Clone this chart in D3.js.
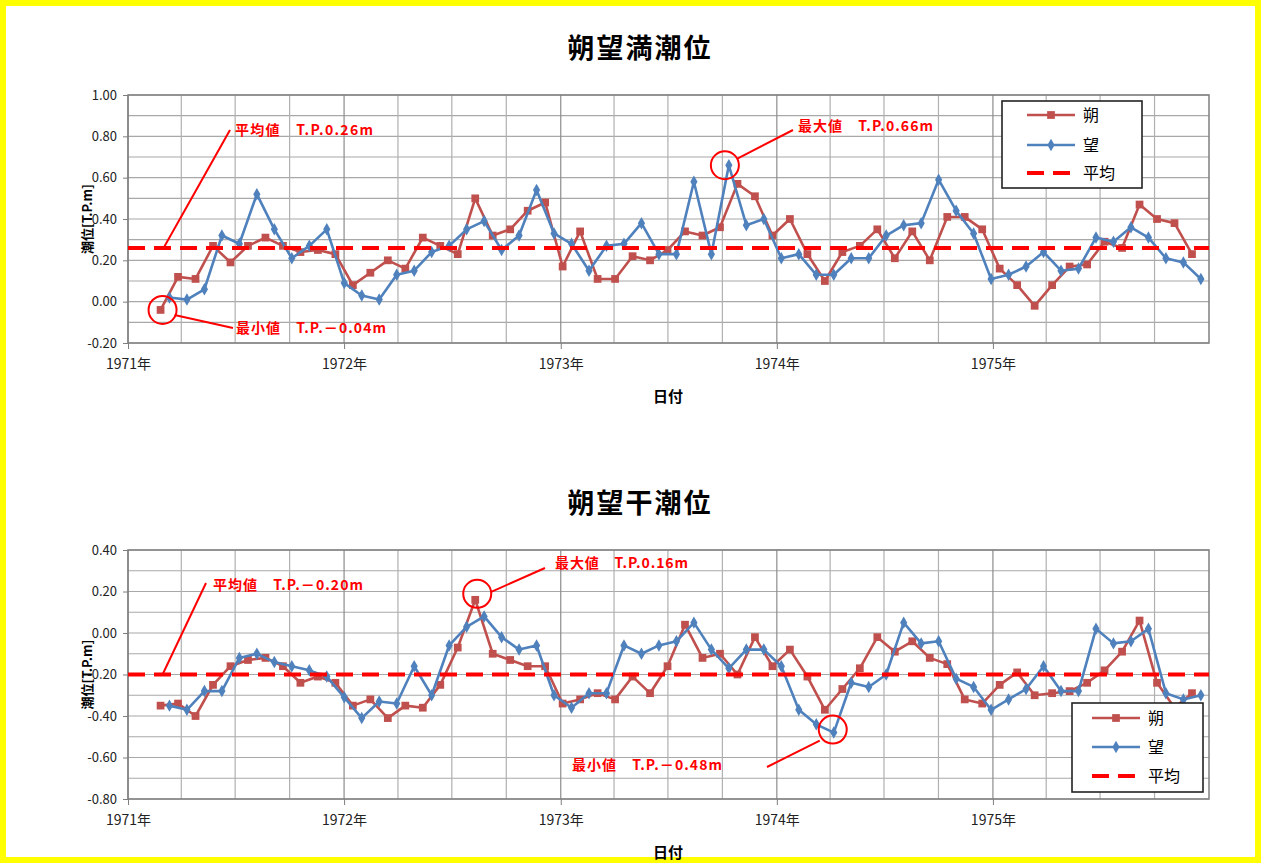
<!DOCTYPE html>
<html>
<head>
<meta charset="utf-8">
<script src="https://cdn.jsdelivr.net/npm/d3@7"></script>
<style>
body { margin: 0; background: #fff; }
text { font-family: "Noto Sans CJK JP", "Noto Sans", sans-serif; }
</style>
</head>
<body>
<div id="chart"></div>
<script>
// spring tide dates: first new moon (朔) and full moon (望), one point per lunar month
var sakuStart = "1971-02-25";
var boStart = "1971-03-12";
var lunarMonth = 29.53;

// year tick labels
var yearTicks = [1971, 1972, 1973, 1974, 1975];

// 朔望満潮位 (T.P.m)
var sakuHigh = [-0.04, 0.12, 0.11, 0.27, 0.19, 0.27, 0.31, 0.27, 0.24, 0.25, 0.23, 0.08, 0.14, 0.20, 0.16, 0.31, 0.27,
  0.23, 0.50, 0.32, 0.35, 0.44, 0.48, 0.17, 0.34, 0.11, 0.11, 0.22, 0.20, 0.25, 0.34, 0.32, 0.36, 0.57, 0.51,
  0.32, 0.40, 0.23, 0.10, 0.24, 0.27, 0.35, 0.21, 0.34, 0.20, 0.41, 0.41, 0.35, 0.16, 0.08, -0.02, 0.08, 0.17,
  0.18, 0.29, 0.26, 0.47, 0.40, 0.38, 0.23];
var boHigh = [0.02, 0.01, 0.06, 0.32, 0.28, 0.52, 0.35, 0.21, 0.27, 0.35, 0.09, 0.03, 0.01, 0.13, 0.15, 0.24, 0.27,
  0.35, 0.39, 0.25, 0.32, 0.54, 0.33, 0.28, 0.15, 0.27, 0.28, 0.38, 0.23, 0.23, 0.58, 0.23, 0.66, 0.37, 0.40,
  0.21, 0.23, 0.13, 0.13, 0.21, 0.21, 0.32, 0.37, 0.38, 0.59, 0.44, 0.33, 0.11, 0.13, 0.17, 0.24, 0.15, 0.16,
  0.31, 0.29, 0.36, 0.31, 0.21, 0.19, 0.11];
var meanHigh = 0.26;

// 朔望干潮位 (T.P.m)
var sakuLow = [-0.35, -0.34, -0.40, -0.25, -0.16, -0.13, -0.12, -0.16, -0.24, -0.21, -0.24, -0.35, -0.32, -0.41, -0.35, -0.36, -0.25,
  -0.07, 0.16, -0.10, -0.13, -0.16, -0.16, -0.34, -0.32, -0.29, -0.32, -0.21, -0.29, -0.16, 0.04, -0.12, -0.10, -0.20, -0.02,
  -0.16, -0.08, -0.21, -0.37, -0.27, -0.17, -0.02, -0.09, -0.04, -0.12, -0.15, -0.32, -0.34, -0.25, -0.19, -0.30, -0.29, -0.28,
  -0.24, -0.18, -0.09, 0.06, -0.24, -0.36, -0.29];
var boLow = [-0.35, -0.37, -0.28, -0.28, -0.12, -0.10, -0.14, -0.16, -0.18, -0.21, -0.31, -0.41, -0.33, -0.34, -0.16, -0.30, -0.06,
  0.03, 0.08, -0.02, -0.08, -0.06, -0.30, -0.36, -0.29, -0.29, -0.06, -0.10, -0.06, -0.04, 0.05, -0.08, -0.17, -0.08, -0.08,
  -0.16, -0.37, -0.44, -0.48, -0.24, -0.26, -0.20, 0.05, -0.05, -0.04, -0.22, -0.26, -0.37, -0.32, -0.27, -0.16, -0.28, -0.28,
  0.02, -0.05, -0.04, 0.02, -0.29, -0.32, -0.30];
var meanLow = -0.20;

var sakuColor = "#C0504D", boColor = "#4F81BD", meanColor = "#FF0000";

var parse = d3.timeParse("%Y-%m-%d");
function lunarDates(start, n) {
  var t0 = parse(start).getTime();
  return d3.range(n).map(function(i) { return new Date(t0 + i * lunarMonth * 864e5); });
}
var sakuDates = lunarDates(sakuStart, sakuHigh.length);
var boDates = lunarDates(boStart, boHigh.length);

var svg = d3.select("#chart").append("svg")
  .attr("width", 1263)
  .attr("height", 865);

// yellow frame
svg.append("rect")
  .attr("x", 3).attr("y", 3)
  .attr("width", 1255).attr("height", 857)
  .attr("fill", "#fff")
  .attr("stroke", "#FFFF00")
  .attr("stroke-width", 6);

var xScale = d3.scaleTime()
  .domain([new Date(1971, 0, 1), new Date(1976, 0, 1)])
  .range([128, 1209]);

function drawChart(c) {
  var g = svg.append("g");
  var yScale = d3.scaleLinear().domain(c.yDomain).range([c.bottom, c.top]);
  var left = xScale.range()[0], right = xScale.range()[1];

  // title
  g.append("text")
    .attr("x", 640).attr("y", c.titleY)
    .attr("text-anchor", "middle")
    .style("font-size", "27px").style("font-weight", "bold")
    .style("letter-spacing", "2px")
    .text(c.title);

  // horizontal grid every 0.1
  var hVals = d3.range(Math.round(c.yDomain[0] * 10), Math.round(c.yDomain[1] * 10) + 1).map(function(d) { return d / 10; });
  g.selectAll(".hgrid").data(hVals).enter().append("line")
    .attr("x1", left).attr("x2", right)
    .attr("y1", function(d) { return yScale(d); })
    .attr("y2", function(d) { return yScale(d); })
    .attr("stroke", "#a8a8a8").attr("stroke-width", 1.2);

  // vertical grid every 3 months, years darker
  var vVals = d3.timeMonth.every(3).range(xScale.domain()[0], xScale.domain()[1]);
  g.selectAll(".vgrid").data(vVals).enter().append("line")
    .attr("x1", function(d) { return xScale(d); })
    .attr("x2", function(d) { return xScale(d); })
    .attr("y1", c.top).attr("y2", c.bottom)
    .attr("stroke", function(d) { return d.getMonth() == 0 ? "#8c8c8c" : "#b0b0b0"; })
    .attr("stroke-width", 1.2);

  // plot border
  g.append("rect")
    .attr("x", left).attr("y", c.top)
    .attr("width", right - left).attr("height", c.bottom - c.top)
    .attr("fill", "none").attr("stroke", "#7f7f7f").attr("stroke-width", 1.5);

  // y axis
  var yAxis = g.append("g")
    .attr("transform", "translate(" + left + ",0)")
    .call(d3.axisLeft(yScale)
      .tickValues(d3.range(0, hVals.length, 2).map(function(i) { return hVals[i]; }))
      .tickSize(5).tickPadding(6)
      .tickFormat(function(d) { return d.toFixed(2); }));
  yAxis.select(".domain").remove();
  yAxis.selectAll("line").attr("stroke", "#7f7f7f");
  yAxis.selectAll("text").style("font-size", "13px").attr("fill", "#222")
    .style("font-family", "'Liberation Sans Narrow', 'Noto Sans CJK JP', sans-serif");

  // x axis
  var xAxis = g.append("g")
    .attr("transform", "translate(0," + c.bottom + ")")
    .call(d3.axisBottom(xScale)
      .tickValues(yearTicks.map(function(y) { return new Date(y, 0, 1); }))
      .tickSize(6).tickPadding(10)
      .tickFormat(d3.timeFormat("%Y年")));
  xAxis.select(".domain").remove();
  xAxis.selectAll("line").attr("stroke", "#7f7f7f");
  xAxis.selectAll("text").style("font-size", "14px").attr("fill", "#222");

  // axis labels
  g.append("text")
    .attr("x", 668).attr("y", c.bottom + 59)
    .attr("text-anchor", "middle")
    .style("font-size", "15px").style("font-weight", "bold")
    .text("日付");
  g.append("text")
    .attr("transform", "translate(92," + ((c.top + c.bottom) / 2) + ") rotate(-90)")
    .attr("text-anchor", "middle")
    .style("font-size", "13px").style("font-weight", "bold")
    .text("潮位[T.P.m]");

  // series
  var series = [
    {name: "朔", dates: sakuDates, values: c.saku, color: sakuColor, marker: d3.symbolSquare, size: 60},
    {name: "望", dates: boDates, values: c.bo, color: boColor, marker: d3.symbolDiamond, size: 45}
  ];
  var line = d3.line()
    .x(function(d) { return xScale(d[0]); })
    .y(function(d) { return yScale(d[1]); });

  series.forEach(function(s) {
    var pts = s.values.map(function(v, i) { return [s.dates[i], v]; });
    g.append("path")
      .datum(pts)
      .attr("fill", "none")
      .attr("stroke", s.color)
      .attr("stroke-width", 2.6)
      .attr("stroke-linejoin", "round")
      .attr("d", line);
    g.selectAll(".m" + s.name).data(pts).enter().append("path")
      .attr("transform", function(d) { return "translate(" + xScale(d[0]) + "," + yScale(d[1]) + ")"; })
      .attr("d", d3.symbol().type(s.marker).size(s.size))
      .attr("fill", s.color);
  });

  // mean line
  g.append("line")
    .attr("x1", left).attr("x2", right)
    .attr("y1", yScale(c.mean)).attr("y2", yScale(c.mean))
    .attr("stroke", meanColor).attr("stroke-width", 4)
    .attr("stroke-dasharray", "17,9");

  // legend
  var lg = g.append("g").attr("transform", "translate(" + c.legend.x + "," + c.legend.y + ")");
  lg.append("rect")
    .attr("width", c.legend.w).attr("height", c.legend.h)
    .attr("fill", "#fff").attr("stroke", "#222").attr("stroke-width", 1.6);
  var items = [series[0], series[1], {name: "平均", color: meanColor}];
  items.forEach(function(it, i) {
    var yy = c.legend.rows[i];
    var ln = lg.append("line")
      .attr("x1", c.legend.lx).attr("x2", c.legend.lx + 48)
      .attr("y1", yy).attr("y2", yy)
      .attr("stroke", it.color);
    if (it.marker) {
      ln.attr("stroke-width", 2.6);
      lg.append("path")
        .attr("transform", "translate(" + (c.legend.lx + 24) + "," + yy + ")")
        .attr("d", d3.symbol().type(it.marker).size(it.size))
        .attr("fill", it.color);
    } else {
      ln.attr("stroke-width", 4).attr("stroke-dasharray", "17,9");
    }
    lg.append("text")
      .attr("x", c.legend.lx + 56).attr("y", yy + 6)
      .style("font-size", "16px")
      .text(it.name);
  });

  // annotations
  c.notes.forEach(function(n) {
    var px = xScale(n.date), py = yScale(n.value);
    if (n.circle) {
      g.append("circle")
        .attr("cx", px + n.circle[0]).attr("cy", py + n.circle[1]).attr("r", 14)
        .attr("fill", "none").attr("stroke", meanColor).attr("stroke-width", 2);
    }
    g.append("line")
      .attr("x1", px + n.line[0]).attr("y1", py + n.line[1])
      .attr("x2", n.line[2]).attr("y2", n.line[3])
      .attr("stroke", meanColor).attr("stroke-width", 2);
    g.append("text")
      .attr("x", n.tx).attr("y", n.ty + 5)
      .attr("fill", meanColor)
      .style("font-size", "14px").style("font-weight", "bold")
      .attr("textLength", n.tw).attr("lengthAdjust", "spacing")
      .text(n.text);
  });
}

drawChart({
  title: "朔望満潮位", titleY: 58,
  top: 95, bottom: 343, yDomain: [-0.2, 1.0],
  saku: sakuHigh, bo: boHigh, mean: meanHigh,
  legend: {x: 1002, y: 101, w: 140, h: 87, lx: 25, rows: [14, 44, 72]},
  notes: [
    {date: sakuDates[0], value: meanHigh, line: [3, 0, 230, 130], tx: 235, ty: 130, tw: 138, text: "平均値　T.P.0.26m"},
    {date: sakuDates[0], value: sakuHigh[0], circle: [2, 0], line: [14, 5, 233, 328], tx: 236, ty: 328, tw: 150, text: "最小値　T.P.－0.04m"},
    {date: boDates[32], value: boHigh[32], circle: [-4, 0], line: [9, -7, 793, 130], tx: 798, ty: 126, tw: 135, text: "最大値　T.P.0.66m"}
  ]
});

drawChart({
  title: "朔望干潮位", titleY: 513,
  top: 550, bottom: 799, yDomain: [-0.8, 0.4],
  saku: sakuLow, bo: boLow, mean: meanLow,
  legend: {x: 1072, y: 703, w: 131, h: 89, lx: 20, rows: [15, 44, 73]},
  notes: [
    {date: sakuDates[0], value: meanLow, line: [2, 0, 206, 583], tx: 213, ty: 585, tw: 150, text: "平均値　T.P.－0.20m"},
    {date: sakuDates[18], value: sakuLow[18], circle: [2, -6], line: [16, -8, 545, 568], tx: 555, ty: 563, tw: 133, text: "最大値　T.P.0.16m"},
    {date: boDates[38], value: boLow[38], circle: [-1, -3], line: [-14, 8, 767, 767], tx: 572, ty: 765, tw: 150, text: "最小値　T.P.－0.48m"}
  ]
});
</script>
</body>
</html>
